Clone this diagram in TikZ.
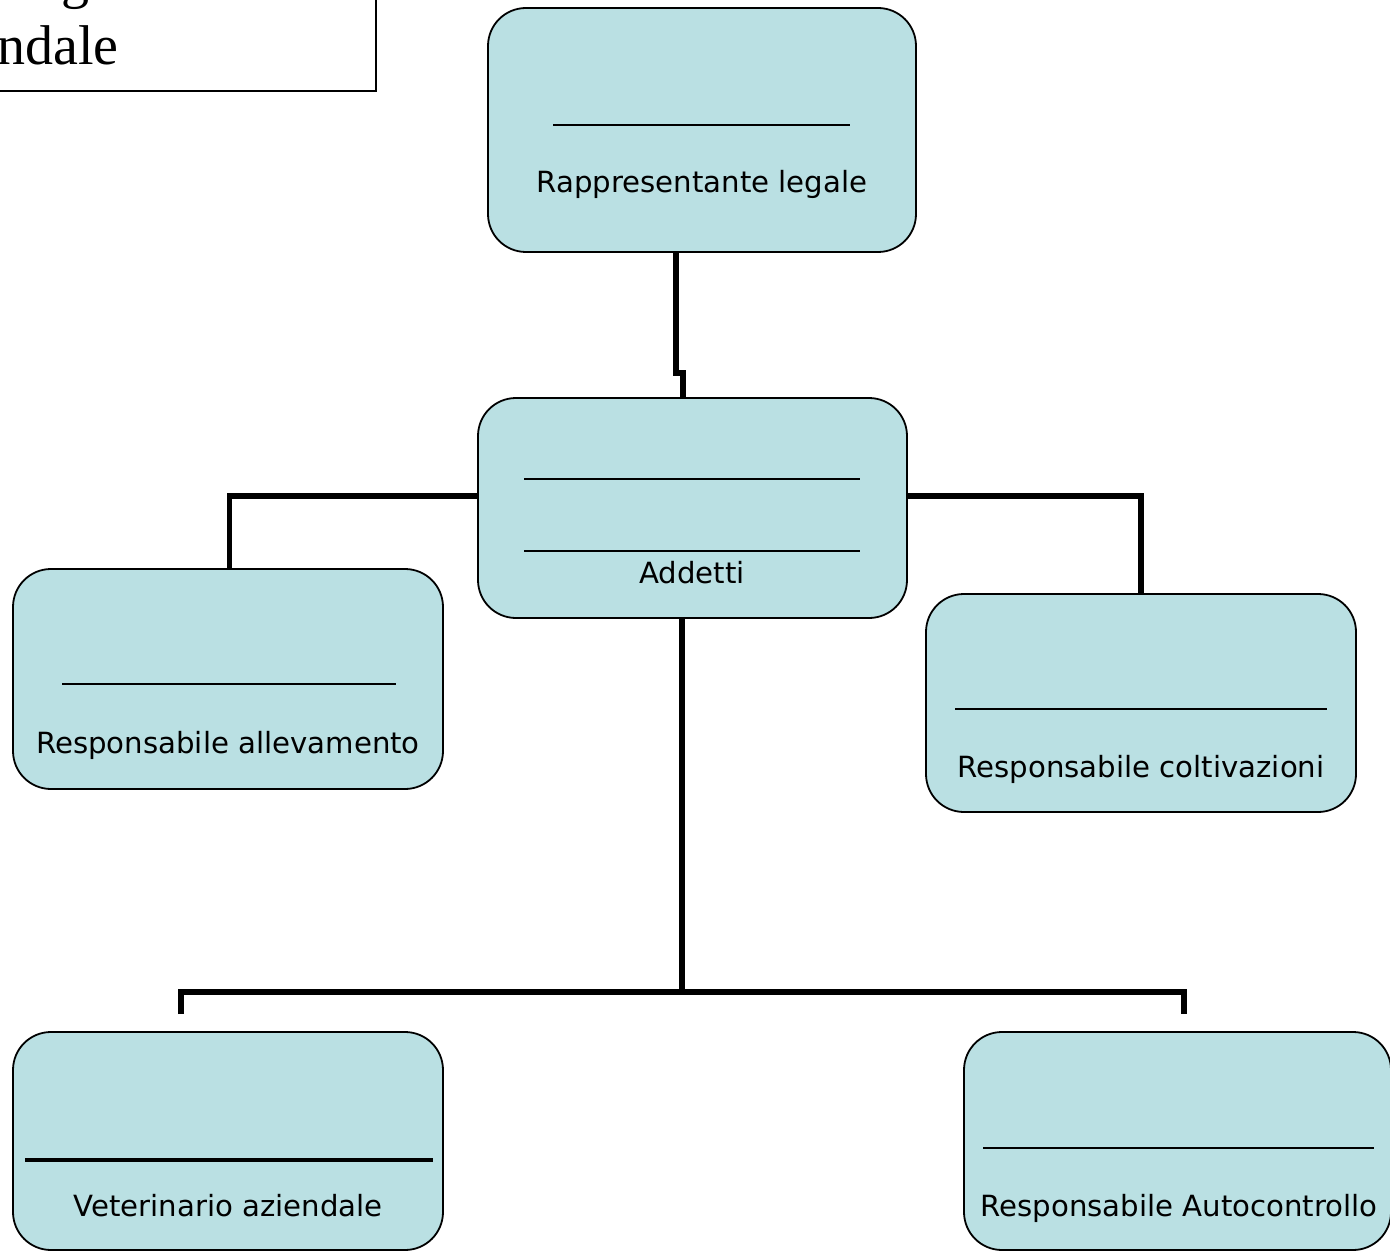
\documentclass[tikz,border=0pt]{standalone}
\usepackage{fontspec}
\setmainfont{DejaVu Sans}
\newfontfamily\titlefont{Liberation Serif}
\definecolor{boxfill}{RGB}{186,224,227}
\begin{document}
\begin{tikzpicture}[x=1pt,y=-1pt,
  box/.style={draw=black, line width=1.8pt, fill=boxfill, rounded corners=38pt, inner sep=0pt},
  lbl/.style={anchor=base, inner sep=0pt, font=\fontsize{29.2}{35}\selectfont},
  conn/.style={line width=5.5pt, line join=miter},
  uline/.style={line width=1.3pt},
  titlebox/.style={draw=black, line width=2pt, fill=white}]
\useasboundingbox (0,0) rectangle (1390,1252);
\clip (0,0) rectangle (1390,1252);

% title box (cut by the picture edge)
\draw[titlebox] (-200,-120) rectangle (376,91);
\node[anchor=base west, inner sep=0pt, font=\titlefont\fontsize{56}{67}\selectfont] (title1) at (-93,-2) {Organigramma};
\node[anchor=base west, inner sep=0pt, font=\titlefont\fontsize{56}{67}\selectfont] (title2) at (-93,65) {aziendale};

% boxes
\node[box, minimum width=428pt, minimum height=244pt] (top) at (702,130) {};
\node[box, minimum width=429pt, minimum height=220pt] (mid) at (692.5,508) {};
\node[box, minimum width=430pt, minimum height=220pt] (left) at (228,679) {};
\node[box, minimum width=430pt, minimum height=218pt] (right) at (1141,703) {};
\node[box, minimum width=430pt, minimum height=218pt] (vet) at (228,1141) {};
\node[box, minimum width=427pt, minimum height=218pt] (auto) at (1177.5,1141) {};

% blank lines to fill in
\draw[uline] (553,125) -- (850,125);
\draw[uline] (524,479) -- (860,479);
\draw[uline] (524,551) -- (860,551);
\draw[uline] (62,684) -- (396,684);
\draw[uline] (955,709) -- (1327,709);
\draw[line width=4pt] (25,1160) -- (433,1160);
\draw[uline] (983,1148) -- (1374,1148);

% labels
\node[lbl] (ltop) at (702,193) {Rappresentante legale};
\node[lbl] (lmid) at (692,583) {Addetti};
\node[lbl] (lleft) at (228,753) {Responsabile allevamento};
\node[lbl] (lright) at (1141,777) {Responsabile coltivazioni};
\node[lbl] (lvet) at (228,1216) {Veterinario aziendale};
\node[lbl] (lauto) at (1179,1216) {Responsabile Autocontrollo};

% connectors
\coordinate (j1) at (676,373);
\coordinate (j2) at (683,373);
\draw[conn] (top.south -| j1) -- (j1) -- (j2) -- (mid.north -| j2);

\coordinate (wl) at (229.5,496);
\draw[conn] (mid.west |- wl) -- (wl) -- (left.north -| wl);
\coordinate (wr) at (1141,496);
\draw[conn] (mid.east |- wr) -- (wr) -- (right.north -| wr);

\coordinate (bj) at (682,992);
\coordinate (bl) at (181,992);
\coordinate (br) at (1184,992);
\coordinate (blend) at (181,1014);
\coordinate (brend) at (1184,1014);
\draw[conn] (mid.south -| bj) -- (bj);
\draw[conn] (blend) -- (bl) -- (br) -- (brend);
\end{tikzpicture}
\end{document}
